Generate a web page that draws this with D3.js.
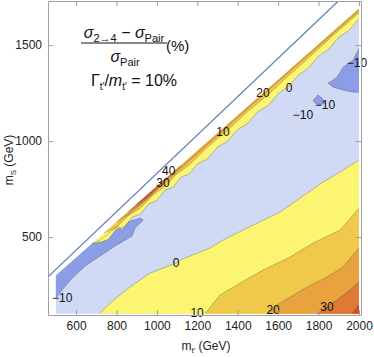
<!DOCTYPE html>
<html><head><meta charset="utf-8">
<script src="https://cdn.jsdelivr.net/npm/d3@7"></script>
<style>body{margin:0;background:#fff}svg{display:block}text{font-family:"Liberation Sans",Arial,sans-serif}</style>
</head><body>
<script>
// ---- data (m_t', m_S in GeV) ----
const xMajor = [600,800,1000,1200,1400,1600,1800,2000];
const yMajor = [500,1000,1500];
const bandColors = {low:"#8a9de6", base:"#d0daf5", 0:"#fbf571", 10:"#f1c94a", 20:"#e8a23e", 30:"#de7a36", 40:"#d64a30"};
const domainPoly = [[500,100],[2000,100],[2000,1690],[500,300]];
const thresholdLine = [[461,293],[1913,1745]];
// lower-right contours (from bottom edge to right edge)
const c0Low  = [[715,100],[768,156],[867,240],[966,312],[1095,365],[1115,380],[1263,443],[1327,484],[1446,547],[1609,630],[1708,703],[1822,786],[1921,849],[2000,901]];
const c10Low = [[1238,100],[1312,198],[1411,260],[1525,328],[1659,396],[1773,469],[1906,536],[2000,650]];
const c20Low = [[1545,100],[1609,156],[1743,240],[1842,292],[1921,344],[2000,443]];
const c30Low = [[1792,100],[1891,172],[1956,224],[2000,266]];
const c40Low = [[1966,100],[2000,146]];
// upper strip contours (start on upper data edge)
const c0Up  = [[680,467],[720,473],[760,489],[800,542],[840,553],[880,605],[920,621],[960,674],[1000,691],[1040,744],[1080,760],[1120,813],[1160,829],[1200,881],[1250,907],[1300,969],[1350,1000],[1400,1061],[1450,1093],[1500,1154],[1550,1185],[1600,1247],[1650,1283],[1700,1344],[1750,1381],[1800,1443],[1850,1478],[1900,1541],[1950,1576],[2000,1638]];
const c10Up = [[740,522],[800,552],[860,613],[920,653],[980,719],[1040,765],[1100,830],[1160,876],[1250,969],[1350,1057],[1450,1155],[1550,1242],[1650,1340],[1750,1433],[1850,1530],[1950,1623],[2000,1669]];
const c20Up = [[800,578],[860,618],[940,687],[1020,766],[1100,840],[1300,1029],[1600,1310],[2000,1680]];
const c30Up = [[860,634],[900,661],[960,710],[1020,772],[1080,833],[1120,875]];
const c40Up = [[900,671],[950,709],[1000,759],[1040,801]];
// regions below -10
const blobLeft  = [[679,466],[719,484],[768,526],[808,557],[828,536],[857,578],[917,599],[932,589],[892,547],[877,505],[842,484],[793,453],[719,401],[645,349],[580,286],[531,224],[500,182]];
const blobRight = [[2000,1484],[1971,1422],[1921,1385],[1891,1333],[1847,1302],[1872,1281],[1921,1266],[1971,1255],[2000,1255]];
const blobSmall = [[1773,1213],[1797,1240],[1817,1224],[1832,1198],[1807,1188],[1782,1198],[1773,1213]];
const labels = [
  ["−10",531,182],["0",1095,365],["10",1199,108],["20",1575,122],["30",1842,137],
  ["40",1058,846],["30",1030,782],["10",1327,1047],["20",1525,1250],["0",1654,1276],
  ["−10",1723,1135],["−10",1832,1187],["−10",1990,1406]
];

// ---- drawing ----
const W = 374, H = 357;
const svg = d3.select("body").append("svg").attr("width",W).attr("height",H);
const x = d3.scaleLinear().domain([461,2010]).range([48,361]);
const y = d3.scaleLinear().domain([94,1730]).range([315,1]);
const line = d3.line().x(d=>x(d[0])).y(d=>y(d[1]));
const poly = pts => line(pts) + "Z";

svg.append("clipPath").attr("id","clip").append("rect")
  .attr("x",x.range()[0]).attr("y",y.range()[1]).attr("width",x.range()[1]-x.range()[0]).attr("height",y.range()[0]-y.range()[1]);
const g = svg.append("g").attr("clip-path","url(#clip)");

g.append("path").attr("d",poly(domainPoly)).attr("fill",bandColors.base);
// below -10
g.append("path").attr("d",poly(blobLeft.concat([[500,300]]))).attr("fill",bandColors.low);
g.append("path").attr("d",poly(blobRight)).attr("fill",bandColors.low);
g.append("path").attr("d",poly(blobSmall)).attr("fill",bandColors.low);

const lowSets = [[0,c0Low],[10,c10Low],[20,c20Low],[30,c30Low],[40,c40Low]];
const upSets  = [[0,c0Up],[10,c10Up],[20,c20Up],[30,c30Up],[40,c40Up]];
[0,10,20,30,40].forEach((lv,i)=>{
  const lo = lowSets[i][1], up = upSets[i][1];
  g.append("path").attr("d",poly(lo.concat([[2000,100]]))).attr("fill",bandColors[lv]);
  const last = up[up.length-1];
  const upPoly = last[0]===2000 ? up.concat([[2000,1690]]) : up;
  g.append("path").attr("d",poly(upPoly)).attr("fill",bandColors[lv]);
});
// contour lines
[c0Low,c10Low,c20Low,c30Low,c40Low,c0Up,c10Up,c20Up,c30Up,c40Up,blobLeft,blobRight,blobSmall].forEach(c=>{
  g.append("path").attr("d",line(c)).attr("fill","none").attr("stroke","rgba(70,70,70,0.55)").attr("stroke-width",0.6);
});
// threshold line
g.append("path").attr("d",line(thresholdLine)).attr("fill","none").attr("stroke","#5e81b5").attr("stroke-width",1.3);

// contour labels
svg.append("g").selectAll("text").data(labels).join("text")
  .attr("x",d=>x(d[1])).attr("y",d=>y(d[2])).attr("dy","0.35em").attr("text-anchor","middle")
  .attr("font-size",12).attr("fill","#111").text(d=>d[0]);

// ---- frame & ticks ----
const xMinor = d3.range(500,2001,50).filter(v=>!xMajor.includes(v));
const yMinor = d3.range(100,1701,100).filter(v=>!yMajor.includes(v));
function axis(gen, scale, major, minor, tf, transform){
  const a = svg.append("g").attr("transform",transform);
  a.call(gen(scale).tickValues(minor).tickSize(-2.5).tickSizeOuter(0).tickFormat(""));
  a.call(gen(scale).tickValues(major).tickSize(-5).tickSizeOuter(0).tickPadding(6).tickFormat(tf));
  a.selectAll("path.domain").attr("stroke","#a0a0a0");
  a.selectAll("line").attr("stroke","#a0a0a0");
  a.selectAll("text").attr("font-size",12).attr("fill","#222").attr("font-family","Liberation Sans, Arial, sans-serif");
  return a;
}
axis(d3.axisBottom, x, xMajor, xMinor, d3.format("d"), `translate(0,${y.range()[0]})`);
axis(d3.axisTop, x, xMajor, xMinor, ()=>"", `translate(0,${y.range()[1]})`);
axis(d3.axisLeft, y, yMajor, yMinor, d3.format("d"), `translate(${x.range()[0]},0)`);
axis(d3.axisRight, y, yMajor, yMinor, ()=>"", `translate(${x.range()[1]},0)`);

// axis titles
const xl = svg.append("text").attr("x",206).attr("y",350).attr("text-anchor","middle").attr("font-size",12).attr("fill","#222");
xl.append("tspan").text("m");
xl.append("tspan").attr("font-size",8).attr("dy",3).text("t′");
xl.append("tspan").attr("dy",-3).text(" (GeV)");
const yl = svg.append("text").attr("transform","translate(13,160) rotate(-90)").attr("text-anchor","middle").attr("font-size",12).attr("fill","#222");
yl.append("tspan").text("m");
yl.append("tspan").attr("font-size",8).attr("dy",3).text("S");
yl.append("tspan").attr("dy",-3).text(" (GeV)");

// formula
const num = svg.append("text").attr("x",124).attr("y",38).attr("text-anchor","middle").attr("font-size",16).attr("fill","#111");
num.append("tspan").attr("font-style","italic").text("σ");
num.append("tspan").attr("font-size",11).attr("dy",4).text("2→4");
num.append("tspan").attr("dy",-4).text(" − ");
num.append("tspan").attr("font-style","italic").text("σ");
num.append("tspan").attr("font-size",11).attr("dy",4).text("Pair");
svg.append("line").attr("x1",81).attr("x2",167).attr("y1",43).attr("y2",43).attr("stroke","#111").attr("stroke-width",1);
const den = svg.append("text").attr("x",125).attr("y",62).attr("text-anchor","middle").attr("font-size",16).attr("fill","#111");
den.append("tspan").attr("font-style","italic").text("σ");
den.append("tspan").attr("font-size",11).attr("dy",4).text("Pair");
svg.append("text").attr("x",166).attr("y",51).attr("font-size",15).attr("fill","#111").text("(%)");
const gm = svg.append("text").attr("x",134).attr("y",86).attr("text-anchor","middle").attr("font-size",16).attr("fill","#111");
gm.append("tspan").text("Γ");
gm.append("tspan").attr("font-size",10).attr("dy",4).text("t′");
gm.append("tspan").attr("dy",-4).text("/");
gm.append("tspan").attr("font-style","italic").text("m");
gm.append("tspan").attr("font-size",10).attr("dy",4).text("t′");
gm.append("tspan").attr("dy",-4).text(" = 10%");
</script>
</body></html>
